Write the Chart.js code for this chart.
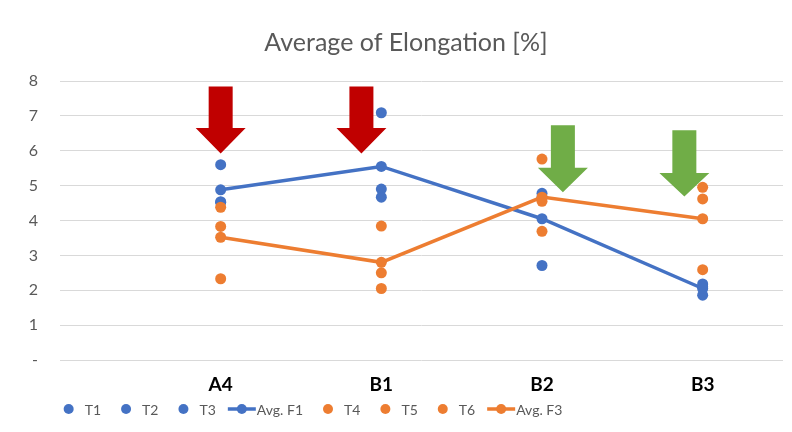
<!DOCTYPE html>
<html><head><meta charset="utf-8">
<script src="https://cdn.jsdelivr.net/npm/chart.js@4"></script>
<style>html,body{margin:0;padding:0;background:#fff}#wrap{width:792px;height:432px}</style>
</head><body><div id="wrap"><canvas id="c" width="792" height="432"></canvas></div>
<script>
const titleText = 'Average of Elongation [%]';
const categories = ['A4', 'B1', 'B2', 'B3'];
const yTickLabels = ['-', '1', '2', '3', '4', '5', '6', '7', '8'];
const T1 = [5.60, 7.09, 4.78, 2.18];
const T2 = [4.54, 4.90, 4.66, 2.10];
const T3 = [4.52, 4.67, 2.71, 1.86];
const avgF1 = [4.88, 5.55, 4.05, 2.05];
const T4 = [4.38, 3.84, 5.76, 4.95];
const T5 = [3.83, 2.50, 3.69, 4.62];
const T6 = [2.33, 2.05, 4.55, 2.59];
const avgF3 = [3.52, 2.80, 4.67, 4.05];

const BLUE = '#4472C4', ORANGE = '#ED7D31';
const FONT = 'Lato';

// arrow annotations (data coordinates)
const arrows = [
  {x: 0.00, top: 7.84, neck: 6.65, tip: 5.92, color: '#C00000'},
  {x: 0.876, top: 7.84, neck: 6.65, tip: 5.92, color: '#C00000'},
  {x: 2.13, top: 6.73, neck: 5.51, tip: 4.81, color: '#70AD47'},
  {x: 2.886, top: 6.59, neck: 5.36, tip: 4.69, color: '#70AD47'}
];

function pts(arr) { return arr.map((v, i) => ({x: i, y: v})); }

const seriesDefs = [
  {label: 'T1', data: T1, color: BLUE, line: false},
  {label: 'T2', data: T2, color: BLUE, line: false},
  {label: 'T3', data: T3, color: BLUE, line: false},
  {label: 'Avg. F1', data: avgF1, color: BLUE, line: true},
  {label: 'T4', data: T4, color: ORANGE, line: false},
  {label: 'T5', data: T5, color: ORANGE, line: false},
  {label: 'T6', data: T6, color: ORANGE, line: false},
  {label: 'Avg. F3', data: avgF3, color: ORANGE, line: true}
];

const datasets = seriesDefs.map((s, i) => ({
  label: s.label,
  data: pts(s.data),
  showLine: s.line,
  borderColor: s.color,
  backgroundColor: s.color,
  pointBackgroundColor: s.color,
  pointBorderColor: s.color,
  pointBorderWidth: 0,
  pointRadius: 5.5,
  borderWidth: 3.5,
  tension: 0,
  order: seriesDefs.length - i,
  isLine: s.line
}));

const decorPlugin = {
  id: 'decor',
  afterDatasetsDraw(chart) {
    const ctx = chart.ctx, xs = chart.scales.x, ys = chart.scales.y;
    ctx.save();
    arrows.forEach(a => {
      const cx = xs.getPixelForValue(a.x);
      const yt = ys.getPixelForValue(a.top), yn = ys.getPixelForValue(a.neck), yp = ys.getPixelForValue(a.tip);
      const sw = 12, hw = 25;
      ctx.fillStyle = a.color;
      ctx.beginPath();
      ctx.moveTo(cx - sw, yt);
      ctx.lineTo(cx + sw, yt);
      ctx.lineTo(cx + sw, yn);
      ctx.lineTo(cx + hw, yn);
      ctx.lineTo(cx, yp);
      ctx.lineTo(cx - hw, yn);
      ctx.lineTo(cx - sw, yn);
      ctx.closePath();
      ctx.fill();
    });
    ctx.restore();
  },
  afterDraw(chart) {
    const ctx = chart.ctx;
    ctx.save();
    // title
    ctx.fillStyle = '#595959';
    ctx.font = '25px ' + FONT;
    ctx.textAlign = 'center';
    ctx.textBaseline = 'middle';
    ctx.fillText(titleText, 406, 43);
    // legend
    ctx.font = '14px ' + FONT;
    ctx.textAlign = 'left';
    const ly = 409;
    const items = chart.data.datasets.map(d => ({
      label: d.label, color: d.borderColor, line: d.isLine,
      w: ctx.measureText(d.label).width
    }));
    let total = 0;
    items.forEach((it, i) => {
      it.mw = it.line ? 29 : 21;
      it.gap = (i < items.length - 1) ? (items[i + 1].line ? 12 : 20) : 0;
      total += it.mw + it.w + it.gap;
    });
    let x = 313 - total / 2;
    items.forEach(it => {
      ctx.fillStyle = it.color;
      ctx.strokeStyle = it.color;
      if (it.line) {
        ctx.lineWidth = 3.5;
        ctx.beginPath();
        ctx.moveTo(x, ly); ctx.lineTo(x + 28, ly);
        ctx.stroke();
        ctx.beginPath(); ctx.arc(x + 14, ly, 5, 0, Math.PI * 2); ctx.fill();
      } else {
        ctx.beginPath(); ctx.arc(x + 5, ly, 5, 0, Math.PI * 2); ctx.fill();
      }
      ctx.fillStyle = '#595959';
      ctx.fillText(it.label, x + it.mw, ly + 1);
      x += it.mw + it.w + it.gap;
    });
    ctx.restore();
  }
};

new Chart(document.getElementById('c'), {
  type: 'line',
  data: {datasets},
  options: {
    responsive: false,
    animation: false,
    devicePixelRatio: 1,
    layout: {padding: {top: 81, right: 9, bottom: 32, left: 0}},
    plugins: {legend: {display: false}, title: {display: false}, tooltip: {enabled: false}},
    scales: {
      x: {
        type: 'linear', min: -1, max: 3.5,
        grid: {display: false}, border: {display: false},
        ticks: {
          stepSize: 1, autoSkip: false, maxRotation: 0, padding: 5,
          color: '#000', font: {family: FONT, size: 19, weight: 'bold'},
          callback: (v) => (Number.isInteger(v) && v >= 0 && v < categories.length) ? categories[v] : ''
        },
        afterFit: (s) => { s.height = 40; }
      },
      y: {
        min: 0, max: 8,
        grid: {color: '#D9D9D9', lineWidth: 1, drawTicks: false},
        border: {display: false},
        ticks: {stepSize: 1, padding: 22, color: '#595959', font: {family: FONT, size: 16},
          callback: (v) => yTickLabels[v]},
        afterFit: (s) => { s.width = 60; }
      }
    }
  },
  plugins: [decorPlugin]
});
</script>
</body></html>
